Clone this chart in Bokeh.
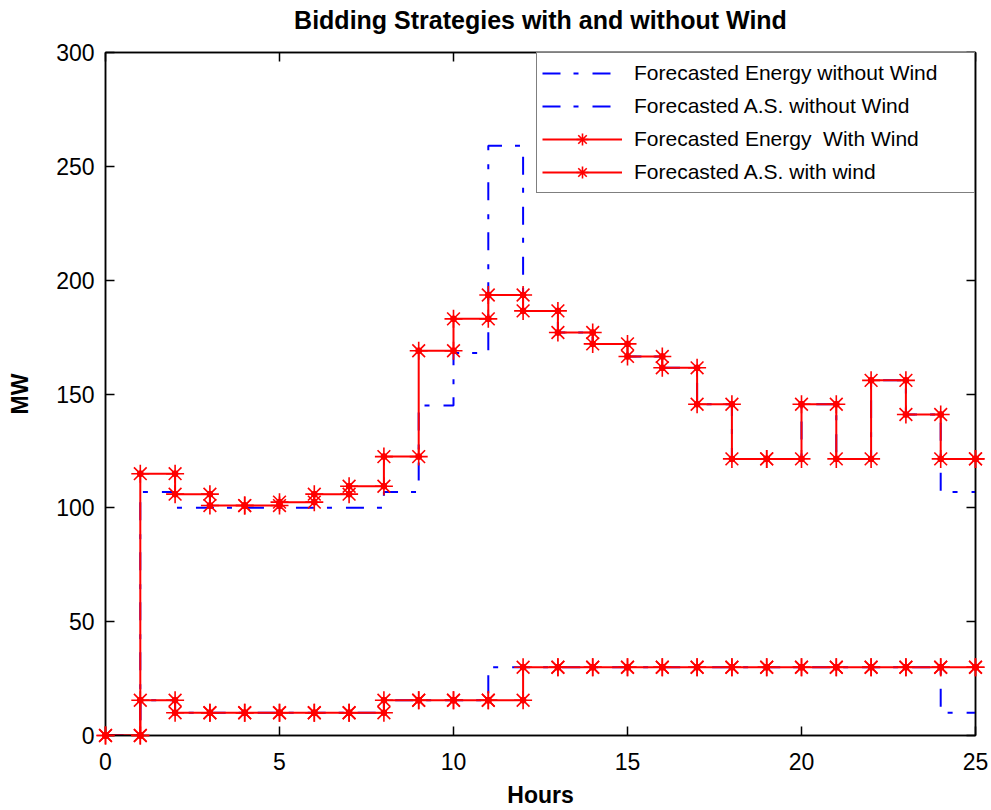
import numpy as np
from bokeh.plotting import figure
from bokeh.models import (Range1d, LinearAxis, FixedTicker, Legend, LegendItem)
from bokeh.embed import file_html
from bokeh.resources import INLINE

# ---------------- data ----------------
hours = list(range(26))
energy_without_wind = [0, 107, 100, 100, 100, 100, 100, 100, 107, 145, 168, 259,
                       186.5, 177, 172, 166.5, 161.5, 145.5, 121.5, 121.5, 145.5,
                       121.5, 156, 141, 107, 107]
as_without_wind = [0, 15.5, 10, 10, 10, 10, 10, 10, 15.5, 15.5, 15.5, 30, 30, 30,
                   30, 30, 30, 30, 30, 30, 30, 30, 30, 30, 10, 10]
energy_with_wind = [0, 115, 106, 101, 101, 102.5, 106, 109.5, 122.5, 169, 183,
                    193.5, 186.5, 177, 172, 166.5, 161.5, 145.5, 121.5, 121.5,
                    145.5, 121.5, 156, 141, 121.5, 121.5]
as_with_wind = [0, 15.5, 10, 10, 10, 10, 10, 10, 15.5, 15.5, 15.5, 15.5, 30, 30,
                30, 30, 30, 30, 30, 30, 30, 30, 30, 30, 30, 30]

x_ticks = [0, 5, 10, 15, 20, 25]
y_ticks = [0, 50, 100, 150, 200, 250, 300]

labels = ["Forecasted Energy without Wind", "Forecasted A.S. without Wind",
          "Forecasted Energy  With Wind", "Forecasted A.S. with wind"]

title_text = "Bidding Strategies with and without Wind"
x_label = "Hours"
y_label = "MW"

FONT = "Liberation Sans"
BLUE = "#0000FF"
RED = "#FF0000"


def stairs(x, y):
    x = np.asarray(x, dtype=float)
    y = np.asarray(y, dtype=float)
    return np.repeat(x, 2)[1:], np.repeat(y, 2)[:-1]


x_min, x_max = x_ticks[0], x_ticks[-1]
y_min, y_max = y_ticks[0], y_ticks[-1]

p = figure(width=991, height=810, output_backend="svg", toolbar_location=None,
           x_range=Range1d(x_min, x_max), y_range=Range1d(y_min, y_max),
           min_border_left=105, min_border_right=16, min_border_top=52,
           min_border_bottom=74, background_fill_color="white",
           border_fill_color="white")

p.xgrid.visible = False
p.ygrid.visible = False
p.outline_line_color = "black"
p.outline_line_width = 1.5


def style_axis(ax, ticks, show_labels):
    ax.ticker = FixedTicker(ticks=ticks)
    ax.major_tick_in = 9
    ax.major_tick_out = 0
    ax.minor_tick_line_color = None
    ax.axis_line_color = "black"
    ax.axis_line_width = 1.5
    ax.major_tick_line_color = "black"
    ax.major_tick_line_width = 1.5
    if show_labels:
        ax.major_label_text_font = FONT
        ax.major_label_text_font_size = "23px"
        ax.major_label_text_color = "black"
    else:
        ax.major_label_text_font_size = "0px"
        ax.major_label_text_color = None
        ax.major_label_text_alpha = 0
        ax.major_label_standoff = 0


xa = p.xaxis[0]
ya = p.yaxis[0]
style_axis(xa, x_ticks, True)
style_axis(ya, y_ticks, True)
xa.major_label_standoff = 17
ya.major_label_standoff = 11
xa.axis_label = x_label
ya.axis_label = y_label
for ax in (xa, ya):
    ax.axis_label_text_font = FONT
    ax.axis_label_text_font_size = "23px"
    ax.axis_label_text_font_style = "bold"
    ax.axis_label_text_color = "black"
xa.axis_label_standoff = 9
ya.axis_label_standoff = 20

# top axis: inward ticks, and carries the chart title as its label
top_ax = LinearAxis()
style_axis(top_ax, x_ticks, False)
top_ax.axis_label = title_text
top_ax.axis_label_text_font = FONT
top_ax.axis_label_text_font_size = "25px"
top_ax.axis_label_text_font_style = "bold"
top_ax.axis_label_text_color = "black"
top_ax.axis_label_standoff = 19
p.add_layout(top_ax, "above")

right_ax = LinearAxis()
style_axis(right_ax, y_ticks, False)
p.add_layout(right_ax, "right")

dash = "18 13 5 14"

xs, ys = stairs(hours, energy_without_wind)
r1 = p.line(xs, ys, line_color=BLUE, line_width=2, line_dash=dash)
xs, ys = stairs(hours, as_without_wind)
r2 = p.line(xs, ys, line_color=BLUE, line_width=2, line_dash=dash)

red_rs = []
for series in (energy_with_wind, as_with_wind):
    xs, ys = stairs(hours, series)
    rl = p.line(xs, ys, line_color=RED, line_width=2)
    rc = p.scatter(xs, ys, marker="circle", size=6, line_color=RED,
                   fill_color=RED, level="overlay")
    rm = p.scatter(xs, ys, marker="asterisk", size=18, line_color=RED,
                   line_width=1.6, level="overlay")
    red_rs.append([rl, rm])

items = [LegendItem(label=labels[0], renderers=[r1]),
         LegendItem(label=labels[1], renderers=[r2]),
         LegendItem(label=labels[2], renderers=red_rs[0]),
         LegendItem(label=labels[3], renderers=red_rs[1])]

legend = Legend(items=items, location="top_right", margin=0, padding=5,
                spacing=3, glyph_width=80, glyph_height=30, label_height=30,
                label_standoff=12, label_width=335,
                label_text_font=FONT, label_text_font_size="21px",
                label_text_color="black",
                border_line_color="black", border_line_width=1.5,
                background_fill_color="white", background_fill_alpha=1.0)
p.add_layout(legend)

open("out.html", "w").write(file_html(p, INLINE))
